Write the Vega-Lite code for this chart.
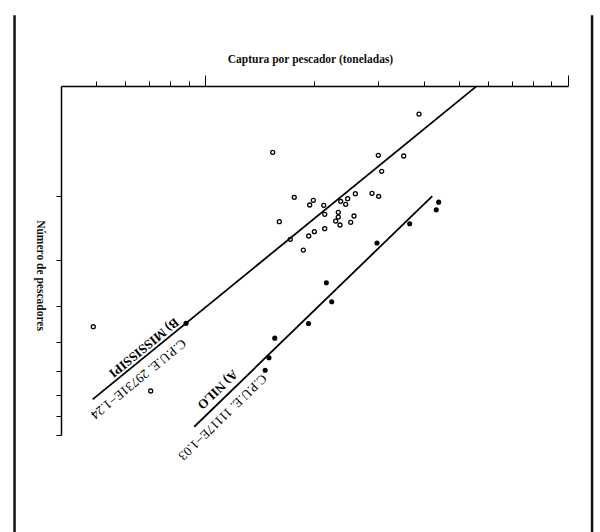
{
  "$schema": "https://vega.github.io/schema/vega-lite/v6.json",
  "width": 507,
  "height": 349,
  "autosize": {"type": "none"},
  "padding": {"left": 61, "top": 86, "right": 32, "bottom": 97},
  "background": "white",
  "config": {"view": {"stroke": null}, "font": "Liberation Serif"},
  "datasets": {
    "points": [
      {"rio": "Mississippi", "x": 3.883, "y": 1.193},
      {"rio": "Mississippi", "x": 1.534, "y": 1.518},
      {"rio": "Mississippi", "x": 2.999, "y": 1.547},
      {"rio": "Mississippi", "x": 3.524, "y": 1.554},
      {"rio": "Mississippi", "x": 3.064, "y": 1.711},
      {"rio": "Mississippi", "x": 1.759, "y": 2.016},
      {"rio": "Mississippi", "x": 1.985, "y": 2.054},
      {"rio": "Mississippi", "x": 1.940, "y": 2.115},
      {"rio": "Mississippi", "x": 2.121, "y": 2.119},
      {"rio": "Mississippi", "x": 2.362, "y": 2.067},
      {"rio": "Mississippi", "x": 2.469, "y": 2.033},
      {"rio": "Mississippi", "x": 2.438, "y": 2.106},
      {"rio": "Mississippi", "x": 2.592, "y": 1.970},
      {"rio": "Mississippi", "x": 2.881, "y": 1.965},
      {"rio": "Mississippi", "x": 3.006, "y": 2.003},
      {"rio": "Mississippi", "x": 2.134, "y": 2.243},
      {"rio": "Mississippi", "x": 2.326, "y": 2.215},
      {"rio": "Mississippi", "x": 2.326, "y": 2.282},
      {"rio": "Mississippi", "x": 2.288, "y": 2.340},
      {"rio": "Mississippi", "x": 2.352, "y": 2.399},
      {"rio": "Mississippi", "x": 2.570, "y": 2.267},
      {"rio": "Mississippi", "x": 2.517, "y": 2.359},
      {"rio": "Mississippi", "x": 1.600, "y": 2.350},
      {"rio": "Mississippi", "x": 2.134, "y": 2.455},
      {"rio": "Mississippi", "x": 1.998, "y": 2.502},
      {"rio": "Mississippi", "x": 1.928, "y": 2.571},
      {"rio": "Mississippi", "x": 1.715, "y": 2.625},
      {"rio": "Mississippi", "x": 1.863, "y": 2.809},
      {"rio": "Mississippi", "x": 0.491, "y": 4.551},
      {"rio": "Mississippi", "x": 0.707, "y": 6.823},
      {"rio": "Nilo", "x": 4.400, "y": 2.078},
      {"rio": "Nilo", "x": 4.334, "y": 2.181},
      {"rio": "Nilo", "x": 3.660, "y": 2.380},
      {"rio": "Nilo", "x": 2.974, "y": 2.687},
      {"rio": "Nilo", "x": 2.156, "y": 3.451},
      {"rio": "Nilo", "x": 2.231, "y": 3.889},
      {"rio": "Nilo", "x": 1.925, "y": 4.461},
      {"rio": "Nilo", "x": 1.554, "y": 4.891},
      {"rio": "Nilo", "x": 1.498, "y": 5.534},
      {"rio": "Nilo", "x": 1.462, "y": 5.987},
      {"rio": "Nilo", "x": 0.885, "y": 4.456}
    ],
    "lines": [
      {"rio": "Mississippi", "x": 0.489, "y": 7.190},
      {"rio": "Mississippi", "x": 5.577, "y": 1.004},
      {"rio": "Nilo", "x": 0.932, "y": 8.545},
      {"rio": "Nilo", "x": 4.225, "y": 2.000}
    ],
    "frame": [
      {"x": 0.2978, "y": 0.6406, "y2": 16.6},
      {"x": 11.65, "y": 0.6406, "y2": 16.6}
    ]
  },
  "encoding": {
    "x": {
      "field": "x",
      "type": "quantitative",
      "scale": {"type": "log", "domain": [0.4, 10], "nice": false},
      "axis": {
        "orient": "top",
        "title": "Captura por pescador (toneladas)",
        "titleFont": "Liberation Serif",
        "titleFontSize": 11.5,
        "titleFontWeight": "bold",
        "titleColor": "#111",
        "titlePadding": 10,
        "titleX": 249,
        "labels": false,
        "grid": false,
        "values": [0.5, 0.6, 0.7, 0.8, 0.9, 1, 2, 3, 4, 5, 6, 7, 8, 9, 10],
        "tickSize": {"condition": {"test": "datum.value == 1 || datum.value == 10", "value": 11}, "value": 5},
        "tickColor": "black",
        "tickWidth": 1,
        "domainColor": "black",
        "domainWidth": 1.5
      }
    },
    "y": {
      "field": "y",
      "type": "quantitative",
      "scale": {"type": "log", "domain": [1, 9], "nice": false, "reverse": true},
      "axis": {
        "orient": "left",
        "title": "Número de pescadores",
        "titleAngle": 90,
        "titleBaseline": "top",
        "titleFont": "Liberation Serif",
        "titleFontSize": 11.5,
        "titleFontWeight": "bold",
        "titleColor": "#111",
        "titlePadding": 10,
        "titleY": 189,
        "labels": false,
        "grid": false,
        "values": [2, 3, 4, 5, 6, 7, 8, 9],
        "tickSize": 5,
        "tickColor": "black",
        "tickWidth": 1,
        "domainColor": "black",
        "domainWidth": 1.5
      }
    }
  },
  "layer": [
    {
      "data": {"name": "frame"},
      "mark": {"type": "rule", "color": "#111", "strokeWidth": 2.5},
      "encoding": {"y2": {"field": "y2"}}
    },
    {
      "data": {"name": "lines"},
      "mark": {"type": "line", "color": "black", "strokeWidth": 1.8},
      "encoding": {"detail": {"field": "rio"}}
    },
    {
      "data": {"name": "points"},
      "transform": [{"filter": "datum.rio == 'Mississippi'"}],
      "mark": {"type": "point", "shape": "circle", "filled": false, "color": "black", "strokeWidth": 1.3, "size": 16, "opacity": 1}
    },
    {
      "data": {"name": "points"},
      "transform": [{"filter": "datum.rio == 'Nilo'"}],
      "mark": {"type": "circle", "color": "black", "size": 26, "opacity": 1}
    },
    {
      "data": {"values": [{"x": 0.677, "y": 5.195, "t": "B) MISSISSIPI"}]},
      "mark": {"type": "text", "angle": 140.8, "align": "center", "baseline": "middle", "font": "Liberation Serif", "fontSize": 13, "fontWeight": "bold", "color": "black"},
      "encoding": {"text": {"field": "t"}}
    },
    {
      "data": {"values": [{"x": 0.654, "y": 6.327, "t": "C.P.U.E. 29731E−1.24"}]},
      "mark": {"type": "text", "angle": 140.8, "align": "center", "baseline": "middle", "font": "Liberation Serif", "fontSize": 13, "color": "black"},
      "encoding": {"text": {"field": "t"}}
    },
    {
      "data": {"values": [{"x": 1.080, "y": 6.759, "t": "A) NILO"}]},
      "mark": {"type": "text", "angle": 135.9, "align": "center", "baseline": "middle", "font": "Liberation Serif", "fontSize": 13, "fontWeight": "bold", "color": "black"},
      "encoding": {"text": {"field": "t"}}
    },
    {
      "data": {"values": [{"x": 1.115, "y": 8.040, "t": "C.P.U.E. 11117E−1.03"}]},
      "mark": {"type": "text", "angle": 135.9, "align": "center", "baseline": "middle", "font": "Liberation Serif", "fontSize": 13, "color": "black"},
      "encoding": {"text": {"field": "t"}}
    }
  ]
}
